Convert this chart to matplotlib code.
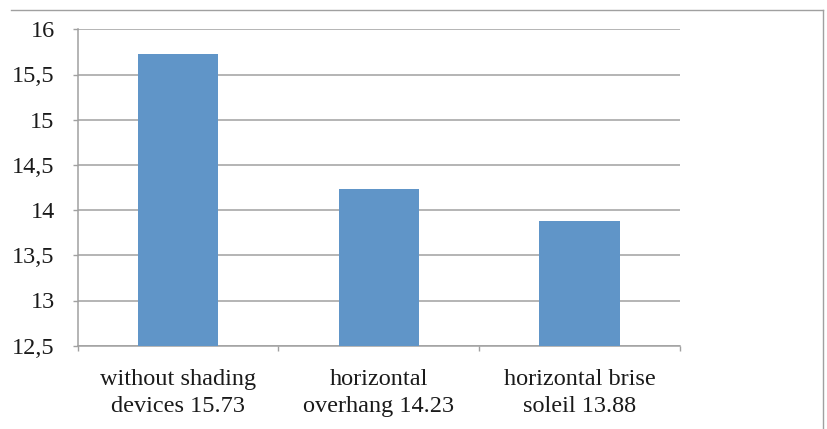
import matplotlib

matplotlib.use("Agg")
import matplotlib.pyplot as plt
from matplotlib.lines import Line2D
from matplotlib.ticker import FuncFormatter, MultipleLocator

# Mean values for each shading configuration
categories = [
    "without shading\ndevices 15.73",
    "horizontal\noverhang 14.23",
    "horizontal brise\nsoleil 13.88",
]
values = [15.73, 14.23, 13.88]
y_min, y_max, y_step = 12.5, 16.0, 0.5

BAR = "#6095C8"
GRID = "#A0A0A0"
TEXT = "#1a1a1a"

plt.rcParams["font.family"] = ["Liberation Serif", "DejaVu Serif"]

fig = plt.figure(figsize=(8.27, 4.29), dpi=100)
ax = fig.add_axes([77.7 / 827, 1 - 345.7 / 429, (680 - 77.7) / 827, (345.7 - 29.3) / 429])

x = list(range(len(categories)))
ax.bar(x, values, width=0.4, color=BAR, zorder=3)

ax.set_xlim(-0.5, len(categories) - 0.5)
ax.set_ylim(y_min, y_max)
ax.yaxis.set_major_locator(MultipleLocator(y_step))
ax.yaxis.set_major_formatter(
    FuncFormatter(lambda v, _: (f"{v:g}").replace(".", ","))
)

# category boundary ticks on the x axis, labels centred under bars
ax.set_xticks([i - 0.5 for i in range(len(categories) + 1)])
ax.set_xticklabels([])
ax.set_xticks(x, minor=True)
ax.set_xticklabels(categories, minor=True, fontsize=17.5, color=TEXT,
                   linespacing=1.35)
ax.tick_params(axis="x", which="minor", length=0, pad=17)
ax.tick_params(axis="x", which="major", length=3.6, width=1.0, color=GRID)
ax.tick_params(axis="y", length=3.6, width=1.0, color=GRID, labelsize=17.5,
               labelcolor=TEXT, pad=13)

ax.grid(True, axis="y", color=GRID, linewidth=1.1, zorder=0)
for side in ("top", "right"):
    ax.spines[side].set_visible(False)
for side in ("left", "bottom"):
    ax.spines[side].set_color(GRID)
    ax.spines[side].set_linewidth(1.1)

# chart-area frame (top and right edges)
fig.add_artist(Line2D([11 / 827, 823 / 827], [1 - 10 / 429, 1 - 10 / 429],
                      color=GRID, linewidth=1.0, transform=fig.transFigure))
fig.add_artist(Line2D([823 / 827, 823 / 827], [1 - 10 / 429, 0],
                      color=GRID, linewidth=1.0, transform=fig.transFigure))

fig.savefig("out.png", dpi=100, facecolor="white")
